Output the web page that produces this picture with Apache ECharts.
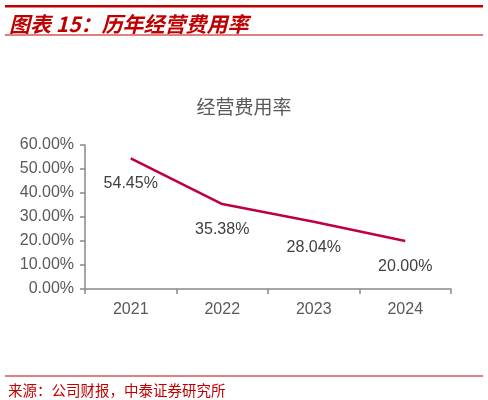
<!DOCTYPE html>
<html><head><meta charset="utf-8">
<script src="https://cdn.jsdelivr.net/npm/echarts@6/dist/echarts.min.js"></script>
<style>html,body{margin:0;padding:0;background:#fff}#c{width:488px;height:400px}</style>
</head><body><div id="c"></div>
<script>
const categories = ['2021', '2022', '2023', '2024'];
const rateValues = [54.45, 35.38, 28.04, 20.00];
const yTicks = [0, 10, 20, 30, 40, 50, 60];

const chart = echarts.init(document.getElementById('c'), null, {renderer: 'canvas'});
chart.setOption({
  animation: false,
  backgroundColor: '#fff',
  title: [
    {text: '图表 15：历年经营费用率', left: 4, top: 9,
     textStyle: {color: '#C00000', fontSize: 21, fontWeight: 'bold', fontStyle: 'italic', fontFamily: '"Noto Sans CJK SC", sans-serif'}},
    {text: '经营费用率', left: 'center', top: 92,
     textStyle: {color: '#595959', fontSize: 19, fontWeight: 'normal', fontFamily: '"Noto Sans CJK SC", sans-serif'}},
    {text: '来源：公司财报，中泰证券研究所', left: 3, top: 378,
     textStyle: {color: '#C00000', fontSize: 14.5, fontWeight: 'normal', fontFamily: '"Noto Sans CJK SC", sans-serif'}}
  ],
  graphic: [
    {type: 'rect', shape: {x: 5, y: 5, width: 478, height: 2.5}, style: {fill: '#C00000'}},
    {type: 'line', shape: {x1: 5, y1: 35, x2: 483, y2: 35}, style: {stroke: '#C00000', lineWidth: 1}},
    {type: 'line', shape: {x1: 5, y1: 376, x2: 483, y2: 376}, style: {stroke: '#C00000', lineWidth: 1}}
  ],
  grid: {left: 85, right: 37, top: 145, bottom: 111, containLabel: false},
  xAxis: {
    type: 'category', data: categories, boundaryGap: true,
    axisLine: {lineStyle: {color: '#898989', width: 1.5}},
    axisTick: {show: true, length: 5, lineStyle: {color: '#898989', width: 1.5}},
    axisLabel: {color: '#595959', fontSize: 16, margin: 13, fontFamily: 'Arial, "Liberation Sans", sans-serif'}
  },
  yAxis: {
    type: 'value', min: yTicks[0], max: yTicks[yTicks.length - 1], interval: 10,
    axisLine: {show: true, lineStyle: {color: '#898989', width: 1.5}},
    axisTick: {show: true, length: 5, lineStyle: {color: '#898989', width: 1.5}},
    splitLine: {show: false},
    axisLabel: {color: '#595959', fontSize: 16, margin: 11, fontFamily: 'Arial, "Liberation Sans", sans-serif',
      formatter: v => v.toFixed(2) + '%'}
  },
  series: [{
    type: 'line', data: rateValues, showSymbol: true, symbol: 'circle', symbolSize: 1,
    itemStyle: {color: 'rgba(0,0,0,0)'},
    lineStyle: {color: '#C0003A', width: 2.5},
    label: {show: true, position: 'bottom', distance: 17, color: '#404040', fontSize: 16,
      fontFamily: 'Arial, "Liberation Sans", sans-serif',
      formatter: p => p.value.toFixed(2) + '%'}
  }]
});
</script></body></html>
